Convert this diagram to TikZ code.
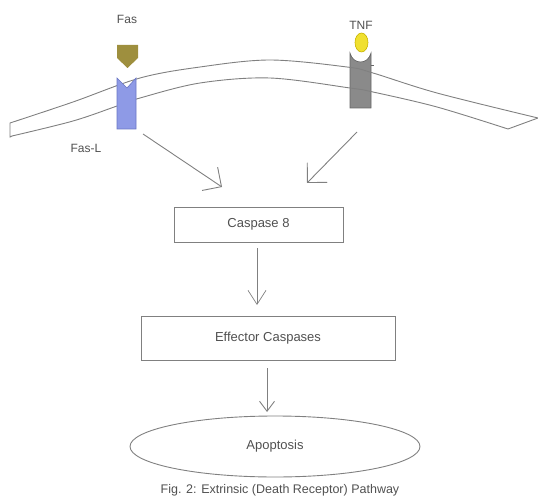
\documentclass[tikz,border=0pt]{standalone}
\usepackage{fontspec}
\setmainfont{Liberation Sans}
\usetikzlibrary{arrows.meta,shapes.geometric}
\definecolor{linegray}{HTML}{808080}
\definecolor{txtgray}{HTML}{505050}
\definecolor{fasblue}{HTML}{8E9AE6}
\definecolor{fasblueD}{HTML}{6A76C4}
\definecolor{olive}{HTML}{9E8F3E}
\definecolor{tnfgray}{HTML}{8A8A8A}
\definecolor{tnfgrayD}{HTML}{666666}
\definecolor{tnfyellow}{HTML}{F0E030}
\definecolor{tnfyellowD}{HTML}{C8B400}
\tikzset{
  lbl/.style={text=txtgray, font=\fontsize{12}{14}\selectfont, inner sep=0pt},
  boxtxt/.style={text=txtgray, font=\fontsize{13}{15}\selectfont},
  stepbox/.style={draw=linegray, line width=0.9pt, rectangle, boxtxt},
  conn/.style={draw=linegray, line width=0.9pt},
  bigbarb/.style={-{Straight Barb[length=14pt,width=28pt]}},
  midbarb/.style={-{Straight Barb[length=14pt,width=18pt]}},
  smallbarb/.style={-{Straight Barb[length=10pt,width=15pt]}},
  membrane/.style={draw=linegray, line width=0.9pt},
}
\begin{document}
\begin{tikzpicture}[x=1pt,y=-1pt]
\useasboundingbox (0,0) rectangle (538,500);
% TNF receptor (under membrane lines)
\path[fill=tnfgray, draw=tnfgrayD, line width=0.6pt]
  (350,53) .. controls (353,65) and (368,65) .. (371,53) -- (371,108) -- (350,108) -- cycle;
\draw[tnfgrayD, line width=0.7pt] (371,65) -- (374,65);
% membrane
\draw[membrane]
  plot[smooth, tension=0.55] coordinates {(10,123) (73,102) (140,78) (200,67) (270,60) (347,67) (373,73) (437,93) (538,118)}
  -- (508,129)
  -- plot[smooth, tension=0.55] coordinates {(508,129) (437,107) (373,92) (350,88) (270,78) (200,83) (140,98) (117,106) (73,121) (12,136)}
  -- (10,137) -- cycle;
% Fas-L receptor
\path[fill=fasblue, draw=fasblueD, line width=0.6pt]
  (117,78) -- (127,88) -- (136,78) -- (136,129) -- (117,129) -- cycle;
% Fas ligand
\path[fill=olive] (117,45) -- (138,45) -- (138,58) -- (127.5,68) -- (117,58) -- cycle;
% TNF ligand
\draw[white, line width=2.5pt] (361.5,42.5) ellipse [x radius=6.5, y radius=9.5];
\path[fill=tnfyellow, draw=tnfyellowD, line width=0.6pt] (361.5,42.5) ellipse [x radius=6.5, y radius=9.5];
% labels
\node[lbl] (fas) at (127,19) {Fas};
\node[lbl] (fasl) at (86,148) {Fas-L};
\node[lbl] (tnf) at (361,25) {TNF};
% boxes
\node[stepbox, minimum width=169pt, minimum height=35pt] (c8) at (258.5,224.5) {Caspase 8};
\node[stepbox, minimum width=254pt, minimum height=44pt] (eff) at (268,338) {Effector Caspases};
\node[ellipse, draw=linegray, line width=0.9pt, boxtxt, minimum width=290pt, minimum height=61pt, inner sep=0pt] (apo) at (275,446.5) {Apoptosis};
\node[text=txtgray, font=\fontsize{12.5}{14}\selectfont] (cap) at (280,490) {Fig. 2: Extrinsic (Death Receptor) Pathway};
% connector end points
\coordinate (fasS) at (143,134);
\coordinate (fasE) at (222,187);
\coordinate (tnfS) at (357,132);
\coordinate (tnfE) at (307,183);
\coordinate (c8S) at (257,248);
\coordinate (effE) at (257,305);
\coordinate (effS) at (267,368);
\coordinate (apoE) at (267,412);
\draw[conn, bigbarb] (fasS) -- (fasE);
\draw[conn, bigbarb] (tnfS) -- (tnfE);
\draw[conn, midbarb, line width=0.7pt] (c8S) -- (effE);
\draw[conn, smallbarb] (effS) -- (apoE);
\end{tikzpicture}
\end{document}
